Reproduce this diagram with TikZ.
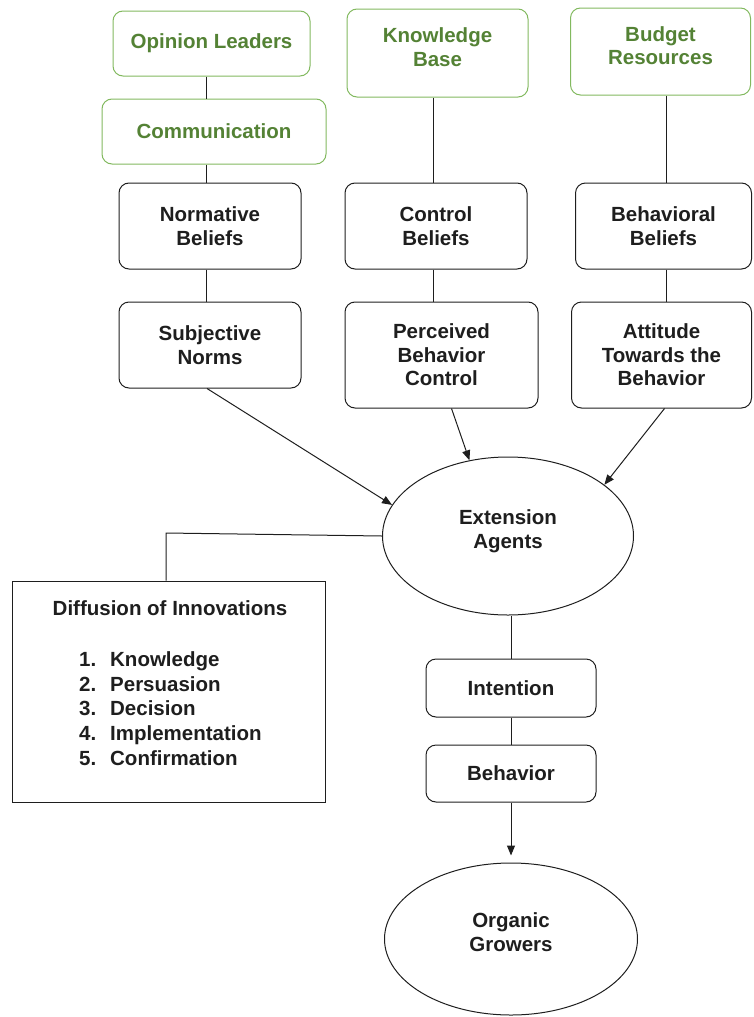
\documentclass[tikz,border=0pt]{standalone}
\usepackage{fontspec}
\setmainfont{Liberation Sans}
\usetikzlibrary{shapes.geometric,arrows.meta}
\definecolor{gborder}{RGB}{130,185,95}
\definecolor{gtext}{RGB}{84,130,53}
\definecolor{ink}{RGB}{30,30,30}
\newcommand{\upby}[2]{\raisebox{#1}[\height][\depth]{\begin{tabular}{@{}c@{}}#2\end{tabular}}}
\begin{document}
\begin{tikzpicture}[x=1pt,y=-1pt,
  every node/.style={font=\fontsize{20.5}{23.5}\selectfont\bfseries, align=center, inner sep=0pt},
  gbox/.style={draw=gborder, line width=1pt, rounded corners=10pt, text=gtext},
  bbox/.style={draw=ink, line width=1pt, rounded corners=10pt, text=ink},
  ell/.style={draw=ink, line width=1pt, ellipse, text=ink},
  link/.style={draw=ink, line width=1pt},
  arr/.style={link, -{Triangle[length=10pt,width=8pt]}}]
\useasboundingbox (0,0) rectangle (753,1017);

% top green boxes
\node[gbox, minimum width=197pt, minimum height=65pt] (ol) at (211.5,43.5) {Opinion Leaders};
\node[gbox, minimum width=224pt, minimum height=65pt] (comm) at (214,131.5) {Communication};
\node[gbox, minimum width=181pt, minimum height=88pt] (kb) at (437.5,53) {\upby{3pt}{Knowledge\\Base}};
\node[gbox, minimum width=180pt, minimum height=87pt] (br) at (660.5,51.5) {\upby{3pt}{Budget\\Resources}};

% belief boxes
\node[bbox, minimum width=182pt, minimum height=86pt] (nb) at (210,226) {Normative\\Beliefs};
\node[bbox, minimum width=182pt, minimum height=86pt] (cb) at (436,226) {Control\\Beliefs};
\node[bbox, minimum width=176pt, minimum height=86pt] (bb) at (663.5,226) {Behavioral\\Beliefs};

\node[bbox, minimum width=182pt, minimum height=86pt] (sn) at (210,345) {Subjective\\Norms};
\node[bbox, minimum width=193pt, minimum height=106pt] (pbc) at (441.5,355) {Perceived\\Behavior\\Control};
\node[bbox, minimum width=180pt, minimum height=106pt] (att) at (661.5,355) {Attitude\\Towards the\\Behavior};

% ellipses
\node[ell, minimum width=251pt, minimum height=158pt] (ea) at (508,536) {\upby{4pt}{Extension\\Agents}};
\node[ell, minimum width=253pt, minimum height=152pt] (og) at (511,939) {\upby{4pt}{Organic\\Growers}};

% intention / behavior
\node[bbox, minimum width=170pt, minimum height=58pt] (int) at (511,688) {Intention};
\node[bbox, minimum width=170pt, minimum height=57pt] (beh) at (511,773.5) {Behavior};

% diffusion box
\node[draw=ink, line width=1pt, minimum width=313pt, minimum height=221pt] (dif) at (168.5,691.5) {};
\node[text=ink] (diftitle) at (170,608) {Diffusion of Innovations};
\node[anchor=west, align=left, text=ink, font=\fontsize{20.5}{24.75}\selectfont\bfseries] (diflist) at (79,708.5)
  {\makebox[31pt][l]{1.}Knowledge\\
   \makebox[31pt][l]{2.}Persuasion\\
   \makebox[31pt][l]{3.}Decision\\
   \makebox[31pt][l]{4.}Implementation\\
   \makebox[31pt][l]{5.}Confirmation};

% vertical connectors
\coordinate (xa) at (206,0);
\coordinate (xb) at (433,0);
\coordinate (xc) at (666,0);
\draw[link] (ol.south -| xa) -- (comm.north -| xa);
\draw[link] (comm.south -| xa) -- (nb.north -| xa);
\draw[link] (nb.south -| xa) -- (sn.north -| xa);
\draw[link] (kb.south -| xb) -- (cb.north -| xb);
\draw[link] (cb.south -| xb) -- (pbc.north -| xb);
\draw[link] (br.south -| xc) -- (bb.north -| xc);
\draw[link] (bb.south -| xc) -- (att.north -| xc);

% arrows into extension agents
\draw[arr] ([xshift=-3pt]sn.south) -- (ea.165);
\draw[arr] ([xshift=10pt]pbc.south) -- (ea.117);
\draw[arr] ([xshift=3pt]att.south) -- (ea.28);

% extension agents to diffusion box
\coordinate (corner) at (166,533);
\draw[link] (ea.west) -- (corner) -- (corner |- dif.north);

% lower chain
\draw[link] (int.north) -- (int.north |- ea.south);
\draw[link] (int.south) -- (beh.north);
\draw[arr] (beh.south) -- ([yshift=7pt]og.north);
\end{tikzpicture}
\end{document}
